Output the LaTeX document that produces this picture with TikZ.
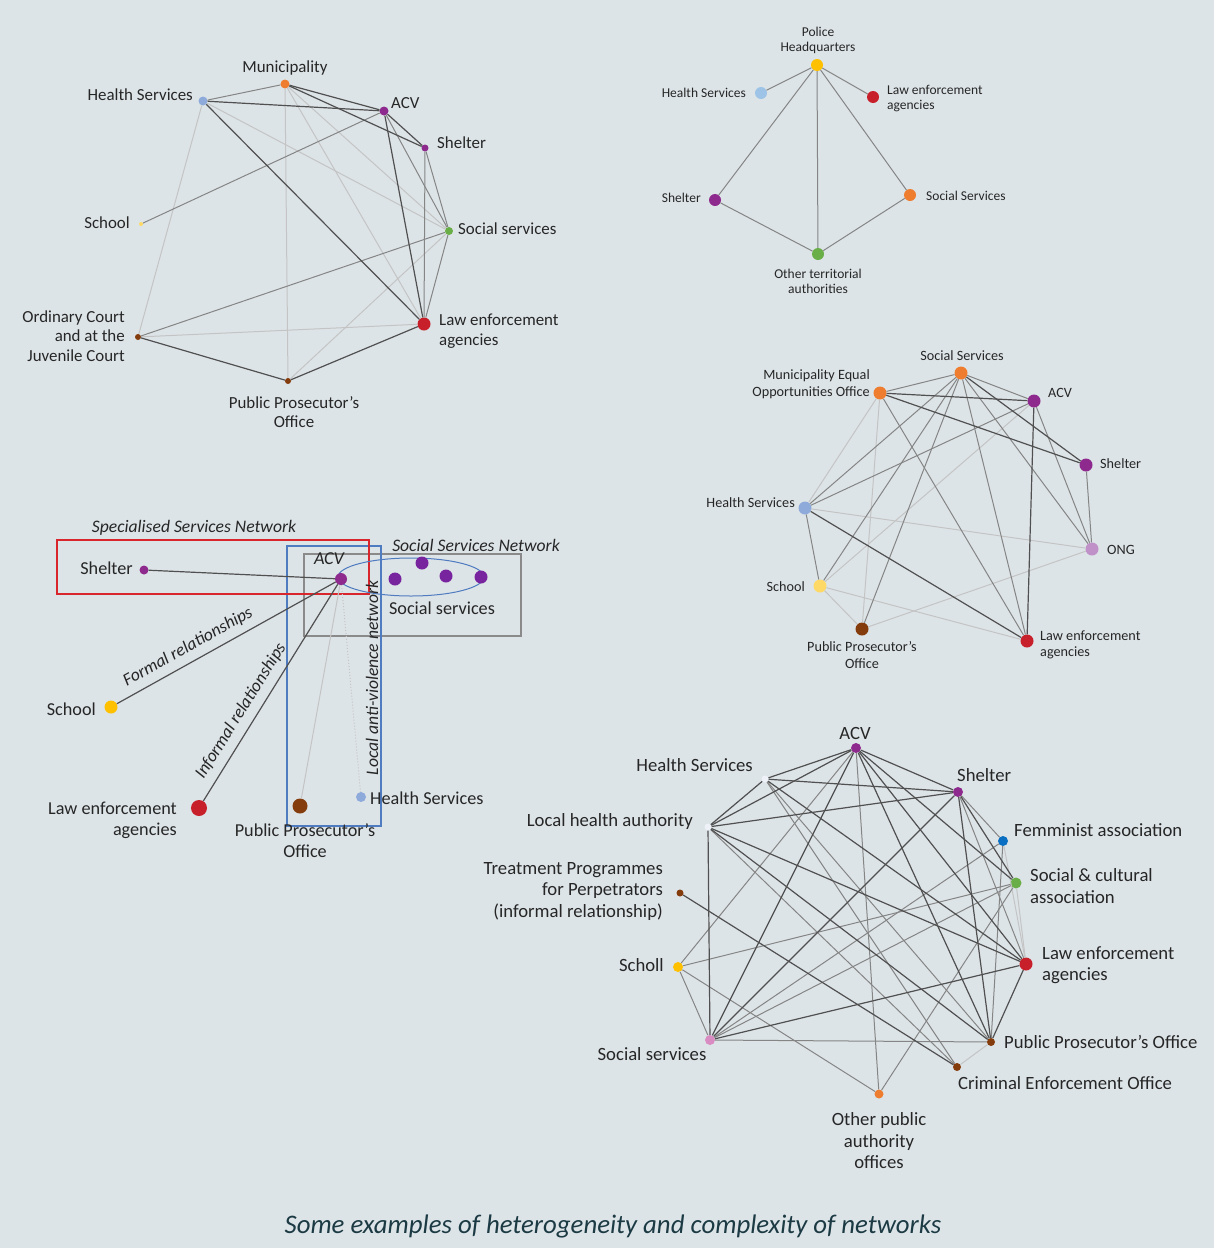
\documentclass[tikz,border=0pt]{standalone}
\usepackage{fontspec}
\setmainfont{Carlito}
\definecolor{bg}{HTML}{DDE4E7}
\definecolor{ink}{HTML}{262626}
\definecolor{capc}{HTML}{1C3A44}
\definecolor{ldk}{HTML}{505050}
\definecolor{lmd}{HTML}{858585}
\definecolor{llt}{HTML}{C4C4C4}
\definecolor{pu}{HTML}{8E2A8E}
\definecolor{og}{HTML}{EE7D2F}
\definecolor{lb}{HTML}{8EAADB}
\definecolor{sb}{HTML}{9DC3E6}
\definecolor{gr}{HTML}{6AAE47}
\definecolor{rd}{HTML}{C8202A}
\definecolor{br}{HTML}{843C0C}
\definecolor{ye}{HTML}{FFC000}
\definecolor{lye}{HTML}{FFD966}
\definecolor{lpu}{HTML}{C090C8}
\definecolor{pk}{HTML}{D98CC2}
\definecolor{bl}{HTML}{0A6FC2}
\definecolor{wh}{HTML}{EEF2F8}
\definecolor{frR}{HTML}{D9262C}
\definecolor{frB}{HTML}{4F7BC0}
\definecolor{frG}{HTML}{8A8A8A}
\tikzset{vx/.style = {circle, inner sep=0pt, minimum size=#1},
         dk/.style = {draw=ldk, line width=1.2pt},
         md/.style = {draw=lmd, line width=1pt},
         lt/.style = {draw=llt, line width=1pt},
         ta/.style = {text=ink, inner sep=1pt, align=center, font=\fontsize{16.9}{19.5}\selectfont},
         tb/.style = {text=ink, inner sep=1pt, align=center, font=\fontsize{13.5}{15}\selectfont},
         tc/.style = {text=ink, inner sep=1pt, align=center, font=\fontsize{14.2}{16.5}\selectfont},
         td/.style = {text=ink, inner sep=1pt, align=center, font=\fontsize{18.2}{21}\selectfont},
         te/.style = {text=ink, inner sep=1pt, align=center, font=\fontsize{18.7}{21.5}\selectfont}}

\begin{document}
\begin{tikzpicture}[x=1pt, y=-1pt]
    \fill[bg] (0,0) rectangle (1214,1248);
    \useasboundingbox (0,0) rectangle (1214,1248);

    \node[vx=9, fill=lb] (aHS) at (203,101) {}; \node[vx=9, fill=og] (aMu) at (285,84) {};
    \node[vx=9, fill=pu] (aAC) at (384,111) {}; \node[vx=7, fill=pu] (aSh) at (425,148) {};
    \node[vx=4, fill=lye] (aSc) at (141,224) {}; \node[vx=8, fill=gr] (aSS) at (449,231) {};
    \node[vx=13, fill=rd] (aLE) at (424,324) {}; \node[vx=6, fill=br] (aOC) at (138,337) {};
    \node[vx=6, fill=br] (aPP) at (288,381) {};
    \node[ta, anchor=east] (aHSt) at (194,95) {Health Services};
    \node[ta] (aMut) at (285,68) {Municipality};
    \node[ta, anchor=west] (aACt) at (390,103) {ACV};
    \node[ta, anchor=west] (aSht) at (436,143) {Shelter};
    \node[ta, anchor=east] (aSct) at (131,223) {School};
    \node[ta, anchor=west] (aSSt) at (457,229) {Social services};
    \node[ta, anchor=west, align=left] (aLEt) at (438,331) {Law enforcement\\agencies};
    \node[ta, anchor=east, align=right] (aOCt) at (126,336) {Ordinary Court\\and at the\\Juvenile Court};
    \node[ta] (aPPt) at (294,412) {Public Prosecutor's\\Office};
    \draw[lt] (aHS) -- (aOC); \draw[lt] (aHS) -- (aSS); \draw[lt] (aMu) -- (aPP);
    \draw[lt] (aMu) -- (aSS); \draw[lt] (aMu) -- (aLE); \draw[lt] (aOC) -- (aLE);
    \draw[lt] (aSS) -- (aPP);
    \draw[md] (aHS) -- (aMu); \draw[md] (aAC) -- (aSS); \draw[md] (aAC) -- (aSc);
    \draw[md] (aSh) -- (aLE); \draw[md] (aSh) -- (aSS); \draw[md] (aSS) -- (aLE);
    \draw[md] (aSS) -- (aOC);
    \draw[dk] (aHS) -- (aAC); \draw[dk] (aHS) -- (aLE); \draw[dk] (aMu) -- (aAC);
    \draw[dk] (aMu) -- (aSh); \draw[dk] (aAC) -- (aSh); \draw[dk] (aAC) -- (aLE);
    \draw[dk] (aOC) -- (aPP); \draw[dk] (aPP) -- (aLE);

    \node[vx=12, fill=ye] (bPH) at (817,65) {}; \node[vx=12, fill=sb] (bHS) at (761,93) {};
    \node[vx=12, fill=rd] (bLE) at (873,97) {}; \node[vx=12, fill=pu] (bSh) at (715,200) {};
    \node[vx=12, fill=og] (bSS) at (910,195) {}; \node[vx=12, fill=gr] (bOT) at (818,254) {};
    \node[tb] (bPHt) at (818,40) {Police\\Headquarters};
    \node[tb, anchor=east] (bHSt) at (747,93) {Health Services};
    \node[tb, anchor=west, align=left] (bLEt) at (886,99) {Law enforcement\\agencies};
    \node[tb, anchor=east] (bSht) at (702,198) {Shelter};
    \node[tb, anchor=west] (bSSt) at (925,196) {Social Services};
    \node[tb] (bOTt) at (818,281) {Other territorial\\authorities};
    \draw[md] (bPH) -- (bHS); \draw[md] (bPH) -- (bLE); \draw[md] (bPH) -- (bSh);
    \draw[md] (bPH) -- (bOT); \draw[md] (bPH) -- (bSS); \draw[md] (bSh) -- (bOT);
    \draw[md] (bSS) -- (bOT);

    \node[vx=13, fill=og] (cSS) at (961,373) {}; \node[vx=13, fill=og] (cMO) at (880,393) {};
    \node[vx=13, fill=pu] (cAC) at (1034,401) {}; \node[vx=13, fill=pu] (cSh) at (1086,465) {};
    \node[vx=13, fill=lb] (cHS) at (805,508) {}; \node[vx=13, fill=lpu] (cON) at (1092,549) {};
    \node[vx=13, fill=lye] (cSc) at (820,586) {}; \node[vx=13, fill=br] (cPP) at (862,629) {};
    \node[vx=13, fill=rd] (cLE) at (1027,641) {};
    \node[tc] (cSSt) at (962,356) {Social Services};
    \node[tc, anchor=east, align=right] (cMOt) at (871,384) {Municipality Equal\\Opportunities Office};
    \node[tc, anchor=west] (cACt) at (1047,393) {ACV};
    \node[tc, anchor=west] (cSht) at (1099,464) {Shelter};
    \node[tc, anchor=east] (cHSt) at (796,503) {Health Services};
    \node[tc, anchor=west] (cONt) at (1106,550) {ONG};
    \node[tc, anchor=east] (cSct) at (806,587) {School};
    \node[tc] (cPPt) at (862,655) {Public Prosecutor's\\Office};
    \node[tc, anchor=west, align=left] (cLEt) at (1039,645) {Law enforcement\\agencies};
    \draw[lt] (cMO) -- (cHS); \draw[lt] (cMO) -- (cPP); \draw[lt] (cAC) -- (cSc);
    \draw[lt] (cHS) -- (cON); \draw[lt] (cSc) -- (cPP); \draw[lt] (cSc) -- (cLE);
    \draw[lt] (cPP) -- (cON);
    \draw[md] (cMO) -- (cSS); \draw[md] (cMO) -- (cLE); \draw[md] (cSS) -- (cAC);
    \draw[md] (cSS) -- (cON); \draw[md] (cSS) -- (cLE); \draw[md] (cSS) -- (cHS);
    \draw[md] (cSS) -- (cSc); \draw[md] (cSS) -- (cPP); \draw[md] (cAC) -- (cHS);
    \draw[md] (cAC) -- (cON); \draw[md] (cSh) -- (cON); \draw[md] (cHS) -- (cSc);
    \draw[dk] (cMO) -- (cAC); \draw[dk] (cMO) -- (cSh); \draw[dk] (cSS) -- (cSh);
    \draw[dk] (cAC) -- (cLE); \draw[dk] (cHS) -- (cLE);

    \draw[frG, line width=1.2pt] (304,554) rectangle (521,636);
    \draw[frB, line width=1.2pt] (287,546) rectangle (381,826);
    \draw[frR, line width=1.2pt] (57,540) rectangle (369,594);
    \draw[frB, line width=1pt] (411,577) ellipse [x radius=73, y radius=19];
    \node[vx=9, fill=pu] (dSh) at (144,570) {}; \node[vx=12, fill=pu] (dAC) at (341,579) {};
    \node[vx=13, fill=pu!85!blue] (dS1) at (395,579) {}; \node[vx=13, fill=pu!85!blue] (dS2) at (422,563) {};
    \node[vx=13, fill=pu!85!blue] (dS3) at (446,576) {}; \node[vx=13, fill=pu!85!blue] (dS4) at (481,577) {};
    \node[vx=13, fill=ye] (dSc) at (111,707) {}; \node[vx=16, fill=rd] (dLE) at (199,808) {};
    \node[vx=15, fill=br] (dPP) at (300,806) {}; \node[vx=10, fill=lb] (dHS) at (361,797) {};
    \node[td, anchor=east] (dSht) at (134,568) {Shelter};
    \node[td, font=\fontsize{18.2}{21}\itshape] (dACt) at (329,559) {ACV};
    \node[td] (dSSt) at (442,608) {Social services};
    \node[td, anchor=east] (dSct) at (97,709) {School};
    \node[td, anchor=east, align=right] (dLEt) at (178,820) {Law enforcement\\agencies};
    \node[td] (dPPt) at (305,841) {Public Prosecutor's\\Office};
    \node[td, anchor=west] (dHSt) at (369,798) {Health Services};
    \node[td, font=\fontsize{17.6}{21}\itshape] (dSNt) at (194,528) {Specialised Services Network};
    \node[td, font=\fontsize{17.6}{21}\itshape] (dSSNt) at (476,545) {Social Services Network};
    \node[td, font=\fontsize{17.6}{21}\itshape, rotate=90] (dLNt) at (372,678) {Local anti-violence network};
    \node[td, font=\fontsize{17.6}{21}\itshape, rotate=29] (dFRt) at (188,647) {Formal relationships};
    \node[td, font=\fontsize{17.6}{21}\itshape, rotate=58] (dIRt) at (241,711) {Informal relationships};
    \draw[lt] (dAC) -- (dPP); \draw[lt, dotted] (dAC) -- (dHS);
    \draw[dk] (dSh) -- (dAC); \draw[dk] (dAC) -- (dSc); \draw[dk] (dAC) -- (dLE);

    \node[vx=10, fill=pu] (eAC) at (856,748) {}; \node[vx=7, fill=wh] (eHS) at (765,779) {};
    \node[vx=10, fill=pu] (eSh) at (958,792) {}; \node[vx=7, fill=wh] (eLH) at (708,827) {};
    \node[vx=10, fill=bl] (eFe) at (1003,841) {}; \node[vx=7, fill=br] (eTP) at (680,893) {};
    \node[vx=11, fill=gr] (eSC) at (1016,883) {}; \node[vx=10, fill=ye] (eSo) at (678,967) {};
    \node[vx=13, fill=rd] (eLE) at (1026,964) {}; \node[vx=10, fill=pk] (eSS) at (710,1040) {};
    \node[vx=8, fill=br] (ePP) at (991,1042) {}; \node[vx=8, fill=br] (eCE) at (957,1067) {};
    \node[vx=9, fill=og] (eOP) at (879,1094) {};
    \node[te] (eACt) at (855,733) {ACV};
    \node[te, anchor=east] (eHSt) at (754,765) {Health Services};
    \node[te, anchor=west] (eSht) at (956,775) {Shelter};
    \node[te, anchor=east] (eLHt) at (694,822) {Local health authority};
    \node[te, anchor=west] (eFet) at (1013,830) {Femminist association};
    \node[te, anchor=east, align=right] (eTPt) at (664,891) {Treatment Programmes\\for Perpetrators\\(informal relationship)};
    \node[te, anchor=west, align=left] (eSCt) at (1029,886) {Social \& cultural\\association};
    \node[te, anchor=east] (eSot) at (665,965) {Scholl};
    \node[te, anchor=west, align=left] (eLEt) at (1041,965) {Law enforcement\\agencies};
    \node[te] (eSSt) at (652,1054) {Social services};
    \node[te, anchor=west] (ePPt) at (1003,1042) {Public Prosecutor's Office};
    \node[te, anchor=west] (eCEt) at (957,1083) {Criminal Enforcement Office};
    \node[te] (eOPt) at (879,1141) {Other public\\authority\\offices};
    \draw[lt] (ePP) -- (eCE); \draw[lt] (eSC) -- (eLE); \draw[lt] (eFe) -- (eLE);
    \draw[md] (eAC) -- (eOP); \draw[md] (eAC) -- (eSo); \draw[md] (eHS) -- (ePP);
    \draw[md] (eHS) -- (eCE); \draw[md] (eSh) -- (eFe); \draw[md] (eSh) -- (eLE);
    \draw[md] (eLH) -- (eCE); \draw[md] (eSo) -- (eSC); \draw[md] (eSo) -- (eSS);
    \draw[md] (eSo) -- (eOP); \draw[md] (eSS) -- (ePP); \draw[md] (eSS) -- (eFe);
    \draw[md] (eSS) -- (eSC); \draw[md] (eFe) -- (ePP); \draw[md] (eSC) -- (eOP);
    \draw[dk] (eAC) -- (eHS); \draw[dk] (eAC) -- (eSh); \draw[dk] (eAC) -- (eLH);
    \draw[dk] (eAC) -- (eSS); \draw[dk] (eAC) -- (eLE); \draw[dk] (eAC) -- (eSC);
    \draw[dk] (eAC) -- (ePP); \draw[dk] (eHS) -- (eSh); \draw[dk] (eHS) -- (eLH);
    \draw[dk] (eHS) -- (eLE); \draw[dk] (eSh) -- (eLH); \draw[dk] (eSh) -- (eSS);
    \draw[dk] (eSh) -- (eSC); \draw[dk] (eSh) -- (ePP); \draw[dk] (eLH) -- (eSS);
    \draw[dk] (eLH) -- (eLE); \draw[dk] (eLH) -- (ePP); \draw[dk] (eTP) -- (eCE);
    \draw[dk] (eSS) -- (eLE); \draw[dk] (eLE) -- (ePP);

    \node[text=capc, font=\fontsize{26.8}{32}\itshape] (cap) at (613,1226) {Some examples of heterogeneity and complexity of networks};
\end{tikzpicture}
\end{document}
